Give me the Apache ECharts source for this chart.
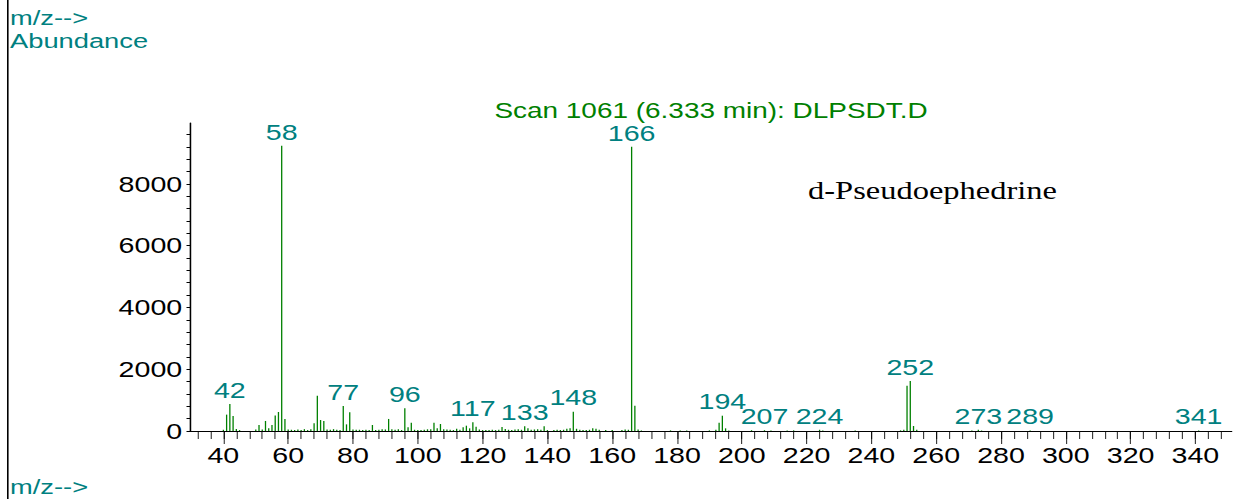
<!DOCTYPE html>
<html><head><meta charset="utf-8">
<script src="https://cdn.jsdelivr.net/npm/echarts@6/dist/echarts.min.js"></script>
<style>
html,body{margin:0;padding:0;background:#fff;overflow:hidden;}
#wrap{width:1257px;height:499px;overflow:hidden;position:relative;background:#fff;}
#chart{width:967px;height:499px;transform:scaleX(1.3);transform-origin:0 0;}
</style></head><body>
<div id="wrap"><div id="chart"></div></div>
<script>
// horizontal stretch of the original printout
const SX = 1.3;

const mz = [
  40,41,42,43,44,45,50,51,52,53,
  54,55,56,57,58,59,60,61,62,63,
  64,65,66,67,68,69,70,71,72,73,
  74,75,76,77,78,79,80,81,82,83,
  84,85,86,87,88,89,90,91,92,93,
  94,95,96,97,98,99,100,101,102,103,
  104,105,106,107,108,109,110,111,112,113,
  114,115,116,117,118,119,120,121,122,123,
  124,125,126,127,128,129,130,131,132,133,
  134,135,136,137,138,139,140,142,143,144,
  145,146,147,148,149,150,151,152,153,154,
  155,156,158,160,163,164,165,166,167,168,
  169,178,181,183,190,192,193,194,195,196,
  203,207,209,214,216,224,225,235,249,250,
  251,252,253,254,271,273,274,289,341
];
const abundance = [
  40,530,870,485,65,30,50,195,50,325,
  85,195,505,615,9230,390,50,40,30,50,
  30,60,30,60,250,1140,355,325,50,40,
  60,40,30,810,215,605,50,40,40,30,
  40,30,195,30,40,60,50,390,60,40,
  60,30,735,120,270,40,30,30,40,55,
  55,270,86,226,55,50,40,30,75,40,
  119,172,86,280,140,50,30,30,30,40,
  30,40,130,65,40,30,50,60,40,150,
  86,40,50,60,40,150,30,30,40,30,
  40,72,86,625,72,40,30,30,40,86,
  72,40,30,30,30,50,40,9200,820,50,
  20,20,20,20,20,40,270,495,86,20,
  25,25,20,20,20,40,20,15,20,40,
  1467,1618,162,40,15,40,15,20,20
];
const labeledPeaks = [42,58,77,96,117,133,148,166,194,207,224,252,273,289,341];
const xTickLabels = [40,60,80,100,120,140,160,180,200,220,240,260,280,300,320,340];
const yTickLabels = [0,2000,4000,6000,8000];
const titleText = 'Scan 1061 (6.333 min): DLPSDT.D';
const compoundName = 'd-Pseudoephedrine';
const axisTitleX = 'm/z-->';
const axisTitleY = 'Abundance';

const xMinor = [];
for (let v = 32; v <= 348; v += 4) xMinor.push(v);
const yMinor = [];
for (let v = 0; v <= 9600; v += 400) yMinor.push(v);

const seriesData = mz.map((m, i) => {
  const item = { value: [m, abundance[i]] };
  if (labeledPeaks.indexOf(m) >= 0) item.label = { show: true };
  return item;
});

const FONT = '"Liberation Sans", Arial, sans-serif';
const TEAL = '#008080';
const GREEN = '#008000';

const chart = echarts.init(document.getElementById('chart'), null, { renderer: 'svg' });
chart.setOption({
  animation: false,
  backgroundColor: '#fff',
  grid: { left: 190 / SX, right: 967 - 1231.7 / SX, top: 123, bottom: 68, containLabel: false, outerBoundsMode: 'none' },
  xAxis: [
    {
      type: 'value', min: 29.7, max: 351.2, position: 'bottom',
      axisLine: { show: true, onZero: false, lineStyle: { color: '#000', width: 1 } },
      axisTick: { show: true, length: 13, lineStyle: { color: '#000', width: 1 / SX }, customValues: xTickLabels },
      axisLabel: { show: true, customValues: xTickLabels, color: '#000', fontSize: 22, fontFamily: FONT, margin: 13,
        formatter: v => String(v) },
      splitLine: { show: false }
    },
    {
      type: 'value', min: 29.7, max: 351.2, position: 'bottom',
      axisLine: { show: false },
      axisTick: { show: true, length: 8, lineStyle: { color: '#000', width: 1 / SX }, customValues: xMinor },
      axisLabel: { show: false },
      splitLine: { show: false }
    }
  ],
  yAxis: {
    type: 'value', min: 0, max: 9970,
    axisLine: { show: true, lineStyle: { color: '#000', width: 1.2 } },
    axisTick: { show: true, length: 3.5 / SX, lineStyle: { color: '#000', width: 1 }, customValues: yMinor },
    axisLabel: { show: true, customValues: yTickLabels, color: '#000', fontSize: 22, fontFamily: FONT, margin: 6,
      formatter: v => String(v) },
    splitLine: { show: false }
  },
  series: [{
    type: 'bar',
    xAxisIndex: 0,
    barWidth: 0.9,
    itemStyle: { color: GREEN },
    label: {
      show: false, position: 'top', distance: 3, color: TEAL, fontSize: 22, fontFamily: FONT,
      formatter: p => String(p.value[0])
    },
    data: seriesData
  }],
  graphic: [
    { type: 'rect', shape: { x: 7 / SX, y: 0, width: 1.6 / SX, height: 499 }, style: { fill: '#000' } },
    { type: 'text', x: 10 / SX, y: 18, style: { text: axisTitleX, fill: TEAL, font: '21px ' + FONT, textVerticalAlign: 'middle' } },
    { type: 'text', x: 10 / SX, y: 41, style: { text: axisTitleY, fill: TEAL, font: '21px ' + FONT, textVerticalAlign: 'middle' } },
    { type: 'text', x: 10 / SX, y: 487, style: { text: axisTitleX, fill: TEAL, font: '21px ' + FONT, textVerticalAlign: 'middle' } },
    { type: 'text', x: 711 / SX, y: 110, style: { text: titleText, fill: GREEN, font: '21.5px ' + FONT, textAlign: 'center', textVerticalAlign: 'middle' } },
    { type: 'text', x: 808 / SX, y: 190, style: { text: compoundName, fill: '#000', font: '25px "Liberation Serif", "Times New Roman", serif', textVerticalAlign: 'middle' } }
  ]
});
</script>
</body></html>
